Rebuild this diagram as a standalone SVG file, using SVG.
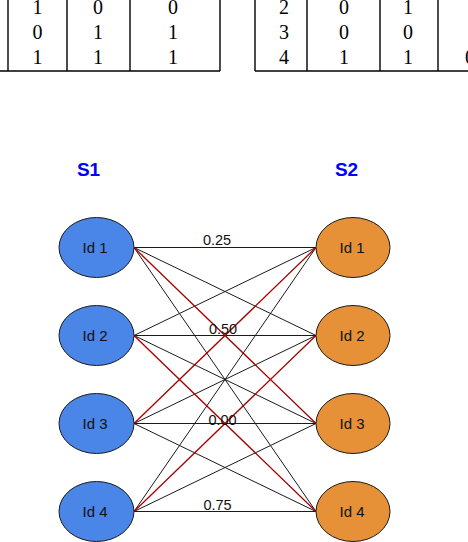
<svg xmlns="http://www.w3.org/2000/svg" width="468" height="542" viewBox="0 0 468 542">
<style>
.tbl{stroke:#000;stroke-width:1.4;fill:none}
.tt{font-family:"Liberation Serif",serif;font-size:20px;fill:#000;text-anchor:middle}
.hd{font-family:"Liberation Sans",Arial,sans-serif;font-size:19px;font-weight:bold;fill:#0000ff;text-anchor:middle}
.s1{fill:#4a86e8;stroke:#1a1a1a;stroke-width:1}
.s2{fill:#e69138;stroke:#1a1a1a;stroke-width:1}
.nl{font-family:"Liberation Sans",Arial,sans-serif;font-size:15px;fill:#111;text-anchor:middle}
.el{font-family:"Liberation Sans",Arial,sans-serif;font-size:14.5px;fill:#111;text-anchor:middle}
.k{stroke:#1a1a1a;stroke-width:1;fill:none}
.r{stroke:#a50000;stroke-width:1.3;fill:none}
</style>
<rect width="468" height="542" fill="#fff"/>
<g id="table-left">
<line class="tbl" x1="0" y1="71" x2="220" y2="71"/>
<line class="tbl" x1="8" y1="0" x2="8" y2="71"/>
<line class="tbl" x1="67" y1="0" x2="67" y2="71"/>
<line class="tbl" x1="130" y1="0" x2="130" y2="71"/>
<line class="tbl" x1="220" y1="0" x2="220" y2="71"/>
<text class="tt" x="37.5" y="13.5">1</text><text class="tt" x="98" y="13.5">0</text><text class="tt" x="173" y="13.5">0</text>
<text class="tt" x="37.5" y="38.5">0</text><text class="tt" x="98" y="38.5">1</text><text class="tt" x="173" y="38.5">1</text>
<text class="tt" x="37.5" y="63.5">1</text><text class="tt" x="98" y="63.5">1</text><text class="tt" x="173" y="63.5">1</text>
</g>
<g id="table-right">
<line class="tbl" x1="255" y1="71" x2="468" y2="71"/>
<line class="tbl" x1="255" y1="0" x2="255" y2="71"/>
<line class="tbl" x1="307" y1="0" x2="307" y2="71"/>
<line class="tbl" x1="380" y1="0" x2="380" y2="71"/>
<line class="tbl" x1="438" y1="0" x2="438" y2="71"/>
<text class="tt" x="284" y="13.5">2</text><text class="tt" x="344" y="13.5">0</text><text class="tt" x="408" y="13.5">1</text><text class="tt" x="472" y="13.5">1</text>
<text class="tt" x="284" y="38.5">3</text><text class="tt" x="344" y="38.5">0</text><text class="tt" x="408" y="38.5">0</text><text class="tt" x="472" y="38.5">1</text>
<text class="tt" x="284" y="63.5">4</text><text class="tt" x="344" y="63.5">1</text><text class="tt" x="408" y="63.5">1</text><text class="tt" x="470" y="63.5">0</text>
</g>
<text class="hd" x="88.5" y="176">S1</text>
<text class="hd" x="346.5" y="176">S2</text>
<g id="connectors">
<line class="k" x1="134" y1="247.5" x2="316" y2="247.5"/>
<line class="k" x1="134" y1="247.5" x2="316" y2="335.5"/>
<line class="k" x1="134" y1="247.5" x2="316" y2="511.5"/>
<line class="k" x1="134" y1="335.5" x2="316" y2="247.5"/>
<line class="k" x1="134" y1="335.5" x2="316" y2="335.5"/>
<line class="k" x1="134" y1="335.5" x2="316" y2="423.5"/>
<line class="k" x1="134" y1="423.5" x2="316" y2="335.5"/>
<line class="k" x1="134" y1="423.5" x2="316" y2="423.5"/>
<line class="k" x1="134" y1="423.5" x2="316" y2="511.5"/>
<line class="k" x1="134" y1="511.5" x2="316" y2="247.5"/>
<line class="k" x1="134" y1="511.5" x2="316" y2="423.5"/>
<line class="k" x1="134" y1="511.5" x2="316" y2="511.5"/>
<line class="r" x1="134" y1="247.5" x2="316" y2="423.5"/>
<line class="r" x1="134" y1="423.5" x2="316" y2="247.5"/>
<line class="r" x1="134" y1="335.5" x2="316" y2="511.5"/>
<line class="r" x1="134" y1="511.5" x2="316" y2="335.5"/>
<text class="el" x="217" y="244.5">0.25</text>
<text class="el" x="223" y="333.5">0.50</text>
<text class="el" x="222.5" y="425">0.00</text>
<text class="el" x="217.5" y="510">0.75</text>
</g>
<g id="s1-id1"><ellipse class="s1" cx="96.5" cy="247.5" rx="37.5" ry="30"/><text class="nl" x="95" y="253">Id 1</text></g>
<g id="s1-id2"><ellipse class="s1" cx="96.5" cy="335.5" rx="37.5" ry="30"/><text class="nl" x="95" y="341">Id 2</text></g>
<g id="s1-id3"><ellipse class="s1" cx="96.5" cy="423.5" rx="37.5" ry="30"/><text class="nl" x="95" y="429">Id 3</text></g>
<g id="s1-id4"><ellipse class="s1" cx="96.5" cy="511.5" rx="37.5" ry="30"/><text class="nl" x="95" y="517">Id 4</text></g>
<g id="s2-id1"><ellipse class="s2" cx="353" cy="247.5" rx="37" ry="30"/><text class="nl" x="352" y="253">Id 1</text></g>
<g id="s2-id2"><ellipse class="s2" cx="353" cy="335.5" rx="37" ry="30"/><text class="nl" x="352" y="341">Id 2</text></g>
<g id="s2-id3"><ellipse class="s2" cx="353" cy="423.5" rx="37" ry="30"/><text class="nl" x="352" y="429">Id 3</text></g>
<g id="s2-id4"><ellipse class="s2" cx="353" cy="511.5" rx="37" ry="30"/><text class="nl" x="352" y="517">Id 4</text></g>
</svg>
